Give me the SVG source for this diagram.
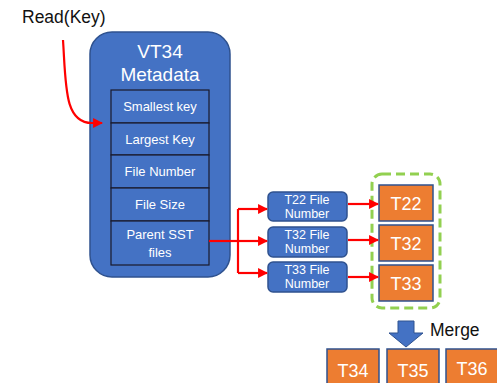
<svg xmlns="http://www.w3.org/2000/svg" width="497" height="383" viewBox="0 0 497 383">
<defs>
<style>
.t{font-family:"Liberation Sans",Arial,sans-serif;fill:#fff;text-anchor:middle}
.blue{fill:#4472C4;stroke:#2F528F;stroke-width:1.5}
.row{fill:#4472C4;stroke:#1a1a2a;stroke-width:1.2}
.org{fill:#ED7D31;stroke:#2F528F;stroke-width:1.5}
.red{fill:none;stroke:#FF0000;stroke-width:2.2}
</style>
<marker id="ah" viewBox="0 0 10 10" refX="9" refY="5" markerWidth="4.5" markerHeight="4.5" orient="auto" markerUnits="strokeWidth">
<path d="M0,0 L10,5 L0,10 z" fill="#FF0000"/>
</marker>
</defs>
<rect width="497" height="383" fill="#fff"/>
<text x="22" y="23" font-family="Liberation Sans,Arial,sans-serif" font-size="17.5" fill="#111">Read(Key)</text>

<g id="vt34">
<rect class="blue" x="90" y="32" width="140" height="245" rx="22"/>
<text class="t" x="160" y="58" font-size="19">VT34</text>
<text class="t" x="160" y="81" font-size="19">Metadata</text>
</g>
<g id="smallest"><rect class="row" x="111" y="90" width="98" height="33"/><text class="t" x="160" y="111" font-size="13">Smallest key</text></g>
<g id="largest"><rect class="row" x="111" y="123" width="98" height="32"/><text class="t" x="160" y="144" font-size="13">Largest Key</text></g>
<g id="filenumber"><rect class="row" x="111" y="155" width="98" height="33"/><text class="t" x="160" y="176" font-size="13">File Number</text></g>
<g id="filesize"><rect class="row" x="111" y="188" width="98" height="33"/><text class="t" x="160" y="209" font-size="13">File Size</text></g>
<g id="parent"><rect class="row" x="111" y="221" width="98" height="44"/><text class="t" x="160" y="239" font-size="13">Parent SST</text><text class="t" x="160" y="257" font-size="13">files</text></g>

<g id="t22fn"><rect class="blue" x="268" y="192" width="79" height="29" rx="5"/><text class="t" x="307" y="204" font-size="12.5">T22 File</text><text class="t" x="307" y="218" font-size="12.5">Number</text></g>
<g id="t32fn"><rect class="blue" x="268" y="227" width="79" height="30" rx="5"/><text class="t" x="307" y="239" font-size="12.5">T32 File</text><text class="t" x="307" y="253" font-size="12.5">Number</text></g>
<g id="t33fn"><rect class="blue" x="268" y="262" width="79" height="30" rx="5"/><text class="t" x="307" y="274" font-size="12.5">T33 File</text><text class="t" x="307" y="288" font-size="12.5">Number</text></g>

<g id="group"><rect x="372" y="174" width="68" height="134" rx="10" fill="none" stroke="#92D050" stroke-width="3" stroke-dasharray="9,5"/></g>
<g id="t22"><rect class="org" x="379" y="185" width="54" height="36"/><text class="t" x="406" y="210" font-size="18">T22</text></g>
<g id="t32"><rect class="org" x="379" y="225" width="54" height="36"/><text class="t" x="406" y="250" font-size="18">T32</text></g>
<g id="t33"><rect class="org" x="379" y="265" width="54" height="36"/><text class="t" x="406" y="290" font-size="18">T33</text></g>

<g id="merge-arrow">
<path d="M398,321 H414 V333 H423 L406,347 L389,333 H398 Z" fill="#4472C4" stroke="#2F528F" stroke-width="1"/>
<text x="430" y="336" font-family="Liberation Sans,Arial,sans-serif" font-size="17.5" fill="#111">Merge</text>
</g>
<g id="t34"><rect class="org" x="327" y="349" width="52" height="40"/><text class="t" x="353" y="377" font-size="18">T34</text></g>
<g id="t35"><rect class="org" x="387" y="349" width="52" height="40"/><text class="t" x="413" y="377" font-size="18">T35</text></g>
<g id="t36"><rect class="org" x="446" y="349" width="52" height="40"/><text class="t" x="472" y="375" font-size="18">T36</text></g>

<g id="connectors">
<path class="red" d="M63,40 C66,85 64,123 92,123 L102,123" marker-end="url(#ah)"/>
<path class="red" d="M209,241 H238"/>
<path class="red" d="M238,209 V273"/>
<path class="red" d="M238,209 H267" marker-end="url(#ah)"/>
<path class="red" d="M238,241 H267" marker-end="url(#ah)"/>
<path class="red" d="M238,273 H267" marker-end="url(#ah)"/>
<path class="red" d="M348,204 H378" marker-end="url(#ah)"/>
<path class="red" d="M348,240 H378" marker-end="url(#ah)"/>
<path class="red" d="M348,277 H378" marker-end="url(#ah)"/>
</g>
</svg>
